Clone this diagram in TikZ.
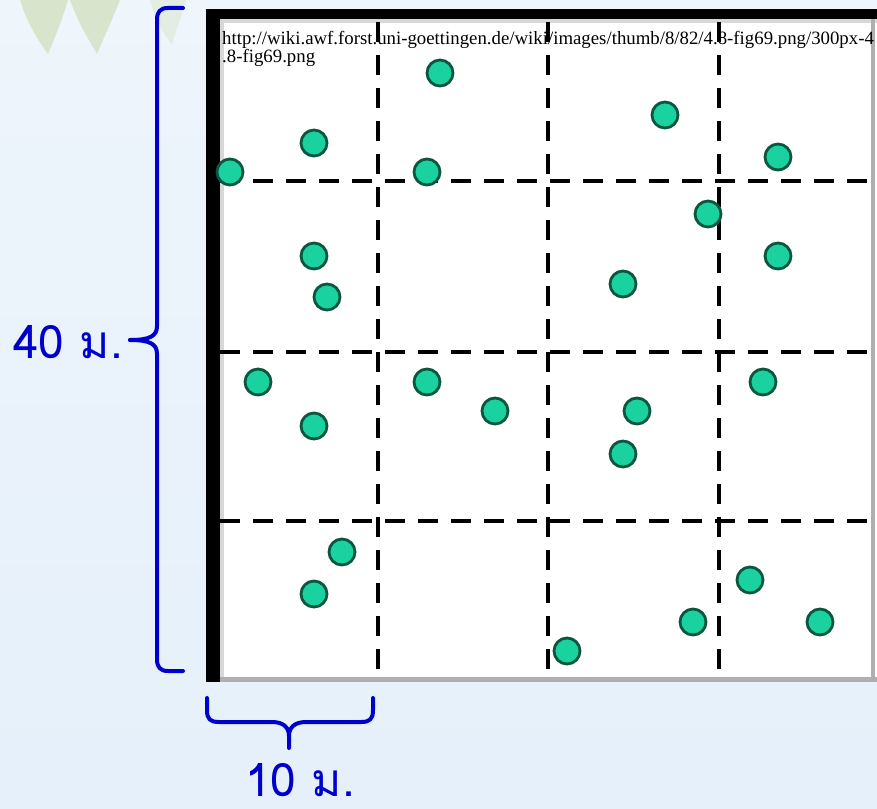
\documentclass[tikz,border=0pt]{standalone}
\usepackage{fontspec}
\setmainfont{Liberation Serif}
\newfontfamily\thaifont[Script=Thai]{Loma}
\definecolor{bgtop}{RGB}{238,245,251}
\definecolor{bgbot}{RGB}{229,240,250}
\definecolor{leaf}{RGB}{196,214,158}
\definecolor{dotfill}{RGB}{26,210,160}
\definecolor{dotline}{RGB}{10,86,62}
\definecolor{braceblue}{RGB}{0,0,205}
\definecolor{edgegray}{RGB}{175,175,175}
\definecolor{innergray}{RGB}{215,215,215}
\begin{document}
\begin{tikzpicture}[x=1pt,y=-1pt,
  dot/.style={circle,draw=dotline,fill=dotfill,line width=2.8pt,minimum size=26pt,inner sep=0pt},
  gridline/.style={line width=4pt,dash pattern=on 20pt off 13pt},
  bracestyle/.style={draw=braceblue,line width=4pt,line cap=round,line join=round},
  thaitext/.style={text=braceblue,font=\thaifont\fontsize{46}{56}\selectfont,inner sep=0pt,text depth=0pt,anchor=base west},
  urltext/.style={font=\fontsize{18.8}{19}\selectfont,inner sep=0pt,anchor=base west}]
\useasboundingbox (0,0) rectangle (877,808);
\shade[top color=bgtop,bottom color=bgbot] (0,0) rectangle (877,808);
% faded leaves
\fill[leaf,opacity=0.5] (20,0) .. controls (28,25) and (38,40) .. (48,54) .. controls (56,35) and (62,20) .. (68,0) -- cycle;
\fill[leaf,opacity=0.5] (70,0) .. controls (79,25) and (89,40) .. (97,54) .. controls (105,35) and (112,20) .. (120,0) -- cycle;
\fill[leaf,opacity=0.25] (150,0) .. controls (155,20) and (165,35) .. (172,45) .. controls (176,30) and (182,15) .. (186,0) -- cycle;
% image frame
\fill[white] (206,9) rectangle (877,682);
\fill[innergray] (220,19) rectangle (877,23);
\fill[innergray] (220,19) rectangle (224,682);
\fill[black] (206,9) rectangle (877,19);
\fill[black] (206,9) rectangle (220,682);
\fill[edgegray] (220,677) rectangle (877,682);
\fill[edgegray] (871,19) rectangle (875,682);
% url text
\node[urltext] (url1) at (222,45) {http://wiki.awf.forst.uni-goettingen.de/wiki/images/thumb/8/82/4.8-fig69.png/300px-4};
\node[urltext] (url2) at (222,63) {.8-fig69.png};
% grid
\foreach \x in {378,548,719} \draw[gridline] (\x,22) -- (\x,682);
\foreach \y in {181,352,521} \draw[gridline] (220,\y) -- (877,\y);
% dots
\node[dot] (d1) at (440,73) {};
\node[dot] (d2) at (314,143) {};
\node[dot] (d3) at (665,115) {};
\node[dot] (d4) at (778,157) {};
\node[dot] (d5) at (230,172) {};
\node[dot] (d6) at (427,172) {};
\node[dot] (d7) at (708,214) {};
\node[dot] (d8) at (314,256) {};
\node[dot] (d9) at (778,256) {};
\node[dot] (d10) at (327,297) {};
\node[dot] (d11) at (623,284) {};
\node[dot] (d12) at (258,382) {};
\node[dot] (d13) at (427,382) {};
\node[dot] (d14) at (763,382) {};
\node[dot] (d15) at (495,411) {};
\node[dot] (d16) at (637,411) {};
\node[dot] (d17) at (314,426) {};
\node[dot] (d18) at (623,454) {};
\node[dot] (d19) at (342,552) {};
\node[dot] (d20) at (314,594) {};
\node[dot] (d21) at (750,580) {};
\node[dot] (d22) at (693,622) {};
\node[dot] (d23) at (820,622) {};
\node[dot] (d24) at (567,651) {};
% left brace
\draw[bracestyle] (183,8) -- (168,8) .. controls (160,8) and (157,12) .. (157,20) -- (157,326) .. controls (157,336) and (150,340) .. (130,340);
\draw[bracestyle] (130,340) .. controls (150,340) and (157,344) .. (157,354) -- (157,659) .. controls (157,667) and (160,671) .. (168,671) -- (183,671);
% bottom brace
\draw[bracestyle] (207,698) -- (207,710) .. controls (207,719) and (210,722) .. (219,722) -- (272,722) .. controls (284,722) and (289,728) .. (289,736) -- (289,748);
\draw[bracestyle] (289,736) .. controls (289,728) and (294,722) .. (306,722) -- (361,722) .. controls (370,722) and (373,719) .. (373,710) -- (373,698);
% labels
\node[thaitext] (lab40) at (13,358) {40 ม.};
\node[thaitext] (lab10) at (245,796) {10 ม.};
\end{tikzpicture}
\end{document}
